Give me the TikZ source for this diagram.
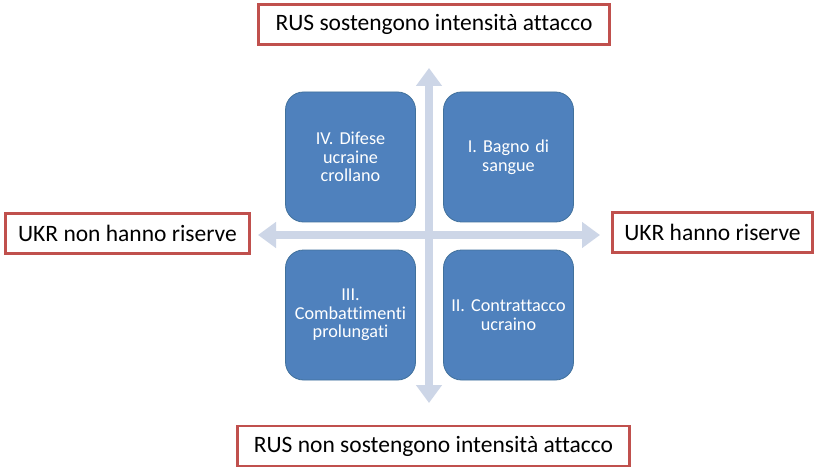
\documentclass[tikz,border=0pt]{standalone}
\usepackage{fontspec}
\setmainfont{Carlito}[Ligatures={NoCommon}]
\frenchspacing
\usetikzlibrary{arrows.meta,shadows}
\definecolor{boxblue}{HTML}{4F81BD}
\definecolor{boxedge}{HTML}{41719C}
\definecolor{arrowgray}{HTML}{CDD6E7}
\definecolor{labelred}{HTML}{C0504D}
\begin{document}
\begin{tikzpicture}[x=1pt,y=-1pt,
  quad/.style={draw=boxedge, line width=0.8pt, fill=boxblue, rounded corners=18pt,
    minimum width=130pt, minimum height=130pt, text=white, align=center,
    text width=124pt, inner sep=0pt, font=\fontsize{18.2}{18.5}\selectfont},
  axislabel/.style={draw=labelred, line width=2.4pt, fill=white, minimum height=40pt,
    inner sep=0pt, font=\fontsize{23.5}{26}\selectfont,
    drop shadow={shadow xshift=1.2pt, shadow yshift=-1.2pt, fill=black!25}},
  axis/.style={draw=arrowgray, line width=8pt,
    {Triangle[width=25pt,length=18pt]}-{Triangle[width=25pt,length=18pt]}}
]
\useasboundingbox (0,0) rectangle (818,470);
\fill[white] (0,0) rectangle (818,470);
% axes
\coordinate (vt) at (429,68);
\coordinate (vb) at (429,403);
\coordinate (hl) at (258,235);
\coordinate (hr) at (600,235);
\draw[axis] (vt) -- (vb);
\draw[axis] (hl) -- (hr);
% quadrants
\node[quad] (q4) at (350.5,157) {IV. Difese\\ucraine\\crollano};
\node[quad] (q1) at (508.5,157) {I. Bagno di\\sangue};
\node[quad] (q3) at (350.5,315) {III.\\Combattimenti\\prolungati};
\node[quad] (q2) at (508.5,315) {II. Contrattacco\\ucraino};
% labels
\node[axislabel, minimum width=351pt] (top) at (434,24.5) {RUS sostengono intensità attacco};
\node[axislabel, minimum width=244pt] (left) at (127.5,233.5) {UKR non hanno riserve};
\node[axislabel, minimum width=200pt] (right) at (712.5,232.5) {UKR hanno riserve};
\node[axislabel, minimum width=392pt] (bottom) at (433.5,446) {RUS non sostengono intensità attacco};
\end{tikzpicture}
\end{document}
